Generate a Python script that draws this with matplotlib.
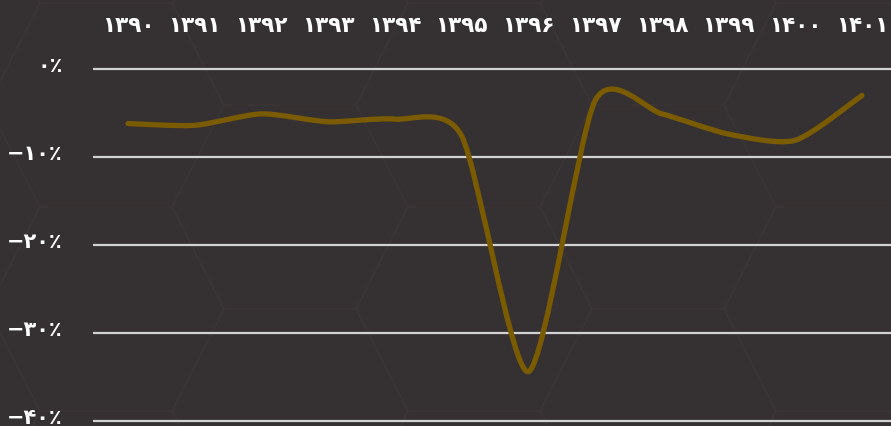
import numpy as np
import matplotlib.pyplot as plt
from matplotlib.path import Path
from matplotlib.patches import PathPatch, Polygon
from matplotlib.transforms import ScaledTranslation

plt.rcParams['font.family'] = ['DejaVu Sans']

# داده‌ها
years = [1390, 1391, 1392, 1393, 1394, 1395, 1396, 1397, 1398, 1399, 1400, 1401]
year_labels = ['۱۳۹۰', '۱۳۹۱', '۱۳۹۲', '۱۳۹۳', '۱۳۹۴', '۱۳۹۵',
               '۱۳۹۶', '۱۳۹۷', '۱۳۹۸', '۱۳۹۹', '۱۴۰۰', '۱۴۰۱']
change = [-6.2, -6.4, -5.1, -6.0, -5.7, -7.6, -34.4, -3.6, -5.1, -7.4, -8.1, -3.0]
y_ticks = [0, -10, -20, -30, -40]
y_tick_labels = ['۰٪', '−۱۰٪', '−۲۰٪', '−۳۰٪', '−۴۰٪']

bg = '#353132'
hex_color = '#3a3534'
line_color = '#7b5b00'
W, H = 891, 427

fig = plt.figure(figsize=(W / 100, H / 100), dpi=100, facecolor=bg)

# پس‌زمینه شش‌ضلعی
bga = fig.add_axes([0, 0, 1, 1])
bga.set_xlim(0, W)
bga.set_ylim(H, 0)
bga.axis('off')
edge, dx, hh = 132, 52, 102
for k in range(-2, 6):
    cx = 290 + 184 * k
    for m in range(-2, 4):
        cy = 208 + 204 * m + (102 if k % 2 else 0)
        pts = [(cx - edge / 2 - dx, cy), (cx - edge / 2, cy - hh), (cx + edge / 2, cy - hh),
               (cx + edge / 2 + dx, cy), (cx + edge / 2, cy + hh), (cx - edge / 2, cy + hh)]
        bga.add_patch(Polygon(pts, closed=True, fill=False, ec=hex_color, lw=1.4))

# محور اصلی
px_per_unit = 8.8
ax = fig.add_axes([93 / W, 0, 1 - 93 / W, (H - 60) / H])
ax.set_facecolor('none')
ax.set_xlim(1390 - 35 / 66.73, 1390 + 763 / 66.73)
ax.set_ylim(-(H - 70) / px_per_unit, 10 / px_per_unit)
for s in ax.spines.values():
    s.set_visible(False)

ax.xaxis.tick_top()
ax.set_xticks(years, year_labels)
ax.set_yticks(y_ticks, y_tick_labels)
ax.tick_params(axis='x', length=0, pad=17, labelsize=15.5, labelcolor='white')
ax.tick_params(axis='y', length=0, pad=22, labelsize=15, labelcolor='white')
for lab in ax.get_xticklabels() + ax.get_yticklabels():
    lab.set_fontweight('bold')
for lab in ax.get_yticklabels():
    lab.set_transform(lab.get_transform() + ScaledTranslation(0, 6 / 100, fig.dpi_scale_trans))
ax.grid(axis='y', color='#d2d2d2', lw=1.6)
ax.grid(axis='x', visible=False)
ax.set_axisbelow(True)

# منحنی هموار (کاردینال)
t = 0.12
x = np.array(years, dtype=float)
y = np.array(change)
xp = np.concatenate([[x[0]], x, [x[-1]]])
yp = np.concatenate([[y[0]], y, [y[-1]]])
verts = [(x[0], y[0])]
codes = [Path.MOVETO]
for i in range(1, len(xp) - 2):
    c1 = (xp[i] + (xp[i + 1] - xp[i - 1]) * t, yp[i] + (yp[i + 1] - yp[i - 1]) * t)
    c2 = (xp[i + 1] - (xp[i + 2] - xp[i]) * t, yp[i + 1] - (yp[i + 2] - yp[i]) * t)
    verts += [c1, c2, (xp[i + 1], yp[i + 1])]
    codes += [Path.CURVE4] * 3
ax.add_patch(PathPatch(Path(verts, codes), fill=False, ec=line_color, lw=3.8,
                       capstyle='round', joinstyle='round'))

fig.savefig('out.png', dpi=100, facecolor=bg)
